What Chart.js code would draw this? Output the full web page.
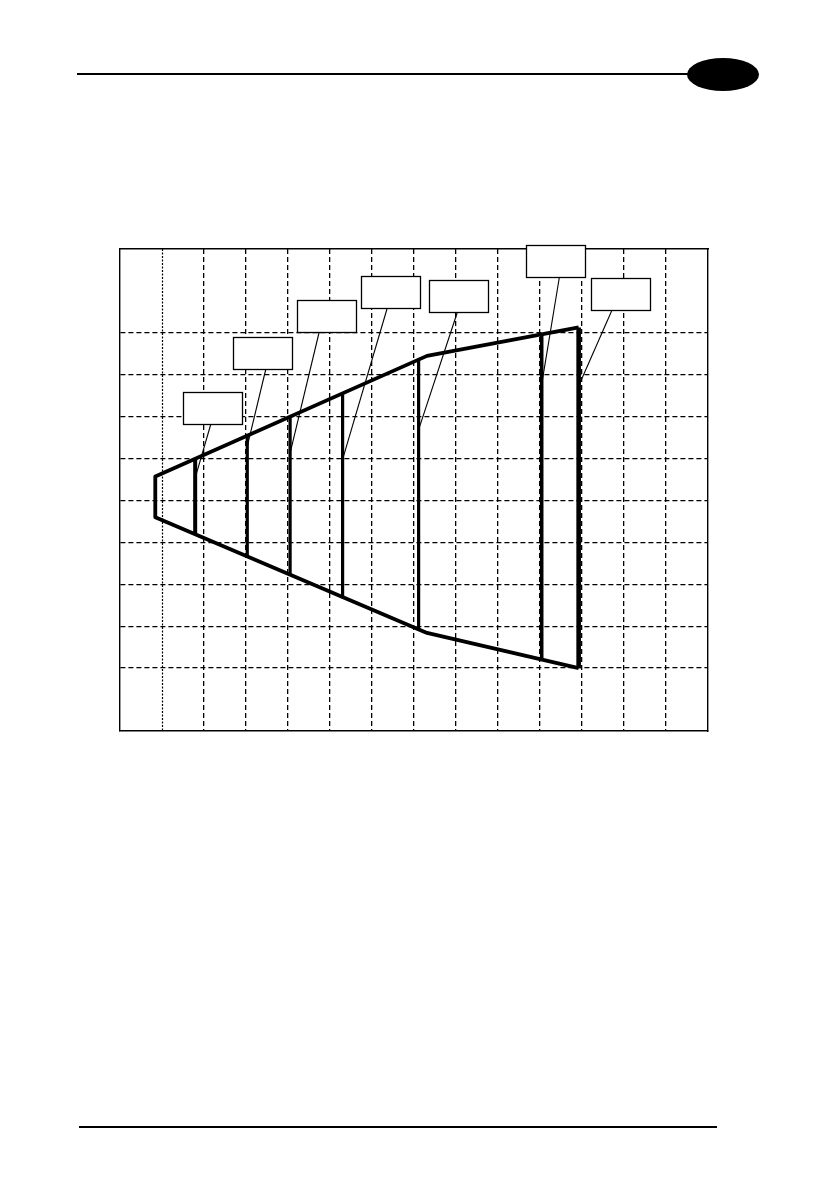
<!DOCTYPE html>
<html>
<head>
<meta charset="utf-8">
<script src="https://cdn.jsdelivr.net/npm/chart.js@4/dist/chart.umd.min.js"></script>
<style>
  html, body { margin: 0; padding: 0; background: #fff; }
  body { width: 839px; height: 1191px; position: relative; overflow: hidden; }
  #wrap { position: absolute; left: 0; top: 0; width: 839px; height: 1191px; }
  .rule { position: absolute; background: #000; }
  .tab { position: absolute; background: #000; border-radius: 50%; }
</style>
</head>
<body>
<div class="rule" style="left:77px; top:72.8px; width:615px; height:2.4px;"></div>
<div class="tab" style="left:687px; top:57.5px; width:72px; height:33px;"></div>
<div class="rule" style="left:79px; top:1126.4px; width:638px; height:1.3px;"></div>
<div id="wrap"><canvas id="c" width="839" height="1191"></canvas></div>
<script>
// ---- data (grid units) ----
const xRange = [0, 14];
const yRange = [-5.5, 6];
const gridX = [2, 3, 4, 5, 6, 7, 8, 9, 10, 11, 12, 13];
const dottedX = [1];
const gridY = [-4, -3, -2, -1, 0, 1, 2, 3, 4];

// beam outline vertices
const outlineX = [0.84, 7.31, 10.92];
const outlineTop = [0.57, 3.45, 4.13];
const outlineBottom = [-0.40, -3.16, -4.00];

// vertical bars (reading distances)
const barX = [1.79, 3.03, 4.05, 5.30, 7.11, 10.04, 10.92];
const barTop = [0.99, 1.53, 1.99, 2.57, 3.36, 3.98, 4.13];
const barBottom = [-0.79, -1.33, -1.80, -2.33, -3.08, -3.80, -4.00];

// callout boxes (centre) and leader lines
const calloutX = [2.20, 3.39, 4.92, 6.44, 8.06, 10.38, 11.92];
const calloutY = [2.21, 3.53, 4.40, 4.98, 4.88, 5.72, 4.92];
const leaderStartX = [2.16, 3.47, 4.74, 6.36, 8.03, 10.46, 11.71];
const leaderEndY = [0.54, 1.29, 1.13, 0.98, 1.69, 2.77, 2.73];

// ---- styles ----
const barWidths = [4, 3.2, 3.2, 3.2, 3.2, 3.6, 4.6];
const boxW = 59, boxH = 32;

// outline polygon: bottom edge (right->left), left edge, top edge (left->right)
const outlinePts = [];
for (let i = outlineX.length - 1; i >= 0; i--) outlinePts.push({x: outlineX[i], y: outlineBottom[i]});
for (let i = 0; i < outlineX.length; i++) outlinePts.push({x: outlineX[i], y: outlineTop[i]});

const datasets = [{
  data: outlinePts, showLine: true, borderColor: '#000', borderWidth: 3.8,
  pointRadius: 0, borderJoinStyle: 'round', tension: 0, fill: false
}];
barX.forEach((x, i) => {
  datasets.push({
    data: [{x: x, y: barTop[i]}, {x: x, y: barBottom[i]}],
    showLine: true, borderColor: '#000', borderWidth: barWidths[i],
    pointRadius: 0, fill: false, borderCapStyle: 'butt'
  });
});

const extrasPlugin = {
  id: 'extras',
  beforeDatasetsDraw(chart) {
    const {ctx, chartArea: a, scales: {x, y}} = chart;
    ctx.save();
    ctx.strokeStyle = '#000';
    ctx.lineWidth = 1.2;
    ctx.setLineDash([2, 1.5]);
    dottedX.forEach(v => {
      const px = Math.round(x.getPixelForValue(v)) + 0.5;
      ctx.beginPath(); ctx.moveTo(px, a.top); ctx.lineTo(px, a.bottom); ctx.stroke();
    });
    ctx.restore();
  },
  afterDatasetsDraw(chart) {
    const {ctx, scales: {x, y}} = chart;
    ctx.save();
    ctx.setLineDash([]);
    ctx.strokeStyle = '#000';
    calloutX.forEach((cx, i) => {
      const px = x.getPixelForValue(cx), py = y.getPixelForValue(calloutY[i]);
      const left = Math.round(px - boxW / 2) + 0.5, top = Math.round(py - boxH / 2) + 0.5;
      ctx.lineWidth = 1.1;
      ctx.beginPath();
      ctx.moveTo(x.getPixelForValue(leaderStartX[i]), top + boxH);
      ctx.lineTo(x.getPixelForValue(barX[i]), y.getPixelForValue(leaderEndY[i]));
      ctx.stroke();
      ctx.fillStyle = '#fff';
      ctx.fillRect(left, top, boxW, boxH);
      ctx.lineWidth = 1.3;
      ctx.strokeRect(left, top, boxW, boxH);
    });
    ctx.restore();
  }
};

new Chart(document.getElementById('c'), {
  type: 'scatter',
  data: { datasets },
  options: {
    responsive: false,
    animation: false,
    devicePixelRatio: 1,
    layout: { padding: { left: 120, right: 131, top: 249, bottom: 460 } },
    plugins: { legend: { display: false }, tooltip: { enabled: false }, title: { display: false } },
    scales: {
      x: {
        type: 'linear', position: 'bottom', min: xRange[0], max: xRange[1],
        ticks: { display: false, stepSize: 1 },
        grid: {
          drawTicks: false,
          color: c => gridX.includes(c.tick && c.tick.value) ? '#000' : 'rgba(0,0,0,0)',
          lineWidth: 1.3
        },
        border: { display: true, color: '#000', width: 1.4, dash: [5, 3] }
      },
      y: {
        type: 'linear', position: 'left', min: yRange[0], max: yRange[1],
        ticks: { display: false, stepSize: 1 },
        grid: {
          drawTicks: false,
          color: c => gridY.includes(c.tick && c.tick.value) ? '#000' : 'rgba(0,0,0,0)',
          lineWidth: 1.3
        },
        border: { display: true, color: '#000', width: 1.4, dash: [5, 3] }
      },
      x2: {
        type: 'linear', position: 'top', min: xRange[0], max: xRange[1],
        ticks: { display: false }, grid: { display: false, drawTicks: false },
        border: { display: true, color: '#000', width: 1.4 }
      },
      y2: {
        type: 'linear', position: 'right', min: yRange[0], max: yRange[1],
        ticks: { display: false }, grid: { display: false, drawTicks: false },
        border: { display: true, color: '#000', width: 1.4 }
      }
    }
  },
  plugins: [extrasPlugin]
});
</script>
</body>
</html>
